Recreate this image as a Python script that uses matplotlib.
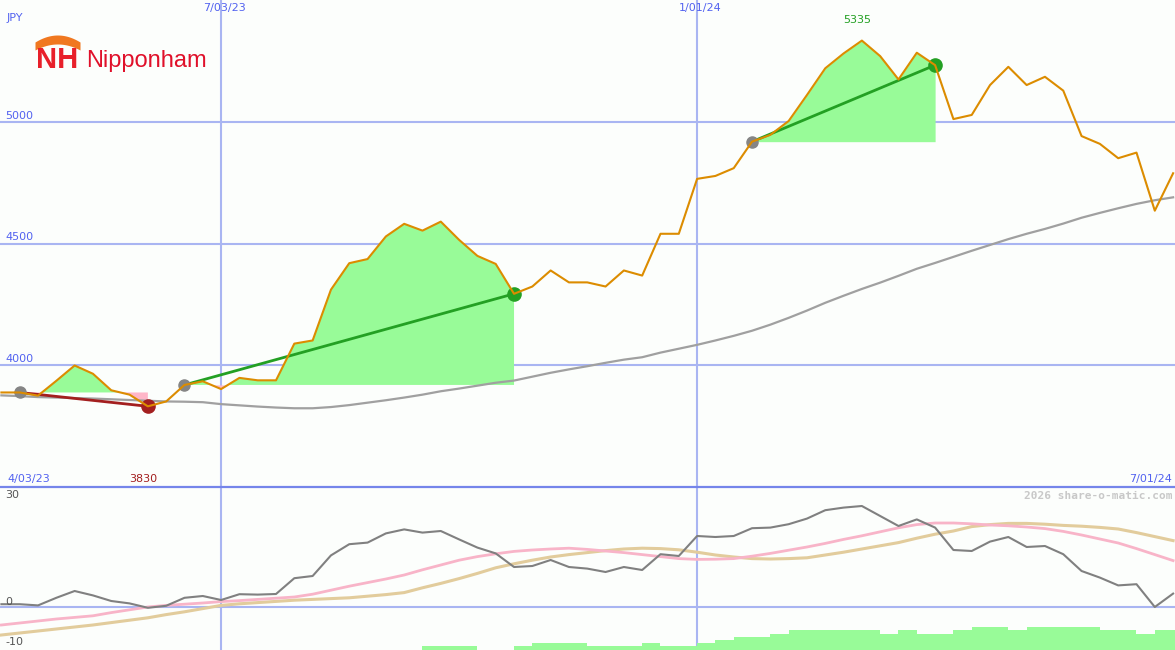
#!/usr/bin/env python3
import numpy as np
import matplotlib
matplotlib.use('Agg')
import matplotlib.pyplot as plt
from matplotlib.lines import Line2D

W, H = 1175, 650

# weekly closes (JPY), first point = week after 4/03/23
price = [3887, 3887, 3874, 3935, 3998, 3964, 3896, 3878, 3830, 3850,
         3918, 3933, 3901, 3947, 3937, 3937, 4088, 4101, 4310, 4419,
         4436, 4529, 4581, 4553, 4590, 4515, 4449, 4416, 4293, 4323,
         4389, 4340, 4340, 4323, 4389, 4368, 4540, 4540, 4766, 4778,
         4810, 4919, 4947, 5004, 5111, 5221, 5282, 5335, 5271, 5175,
         5285, 5234, 5012, 5029, 5152, 5227, 5152, 5186, 5129, 4942,
         4910, 4851, 4874, 4635, 4789]

moving_avg = [3875, 3872, 3868, 3866, 3864, 3862, 3859, 3856, 3853, 3850,
              3849, 3847, 3839, 3834, 3829, 3825, 3822, 3822, 3827, 3835,
              3845, 3855, 3866, 3878, 3892, 3903, 3915, 3927, 3936, 3952,
              3968, 3982, 3995, 4009, 4022, 4032, 4051, 4067, 4083, 4101,
              4120, 4141, 4166, 4194, 4224, 4256, 4285, 4313, 4339, 4367,
              4396, 4420, 4445, 4470, 4494, 4518, 4540, 4560, 4582, 4606,
              4626, 4645, 4663, 4678, 4690]

# lower panel indicators
osc = [0.7, 0.7, 0.4, 2.3, 4.0, 2.9, 1.5, 0.9, -0.2, 0.3,
       2.3, 2.75, 1.75, 3.2, 3.1, 3.25, 7.2, 7.75, 12.9, 15.7,
       16.1, 18.4, 19.4, 18.6, 19.0, 16.9, 14.85, 13.4, 10.0, 10.25,
       11.75, 10.0, 9.6, 8.75, 10.0, 9.25, 13.2, 12.75, 17.75, 17.5,
       17.75, 19.7, 19.85, 20.7, 22.1, 24.2, 24.85, 25.25, 22.75, 20.25,
       21.9, 19.85, 14.25, 14.0, 16.35, 17.5, 15.0, 15.25, 13.2, 9.0,
       7.35, 5.4, 5.7, 0.0, 3.35]

osc_pink = [-4.5, -4.0, -3.5, -3.0, -2.6, -2.2, -1.4, -0.7, 0.0, 0.4,
            0.7, 1.0, 1.35, 1.6, 1.9, 2.2, 2.5, 3.2, 4.2, 5.2,
            6.1, 7.0, 8.0, 9.3, 10.5, 11.7, 12.6, 13.3, 13.9, 14.25,
            14.5, 14.7, 14.4, 14.0, 13.6, 13.1, 12.6, 12.1, 11.9, 11.95,
            12.1, 12.7, 13.4, 14.2, 15.0, 15.9, 16.9, 17.8, 18.8, 19.8,
            20.6, 21.0, 21.0, 20.8, 20.5, 20.3, 20.0, 19.6, 18.9, 18.0,
            17.0, 16.0, 14.6, 13.1, 11.6]

osc_tan = [-7.0, -6.5, -6.0, -5.5, -5.0, -4.5, -3.9, -3.3, -2.7, -1.9,
           -1.2, -0.4, 0.4, 0.8, 1.1, 1.4, 1.7, 1.9, 2.1, 2.3,
           2.7, 3.1, 3.6, 4.8, 5.9, 7.1, 8.4, 9.8, 10.8, 11.7,
           12.5, 13.1, 13.6, 14.1, 14.5, 14.7, 14.6, 14.3, 13.7, 13.0,
           12.5, 12.1, 12.0, 12.1, 12.3, 13.0, 13.7, 14.5, 15.3, 16.1,
           17.2, 18.2, 19.0, 20.1, 20.6, 20.9, 20.9, 20.7, 20.4, 20.2,
           19.9, 19.5, 18.6, 17.6, 16.6]

nan = np.nan
bar_top = [nan] * 23 + [
    -9.7, -9.7, -9.7, nan, nan, -9.7, -9.1, -9.1, -9.1, -9.7,
    -9.7, -9.7, -9.1, -9.7, -9.7, -9.1, -8.3, -7.6, -7.6, -6.8,
    -5.8, -5.8, -5.8, -5.8, -5.8, -6.8, -5.8, -6.8, -6.8, -5.8,
    -5.0, -5.0, -5.8, -5.0, -5.0, -5.0, -5.0, -5.8, -5.8, -6.8,
    -5.8, -5.8]

# trend segments: start week, end week, colour of end marker/line
seg_start = [1, 10, 41]
seg_end = [8, 28, 51]
seg_color = ['#a31f1f', '#23a023', '#23a023']

month_ticks = [12, 38]
top_labels = ['7/03/23', '1/01/24']
price_grid = [4000, 4500, 5000]

BG = '#fcfefc'
GRID = '#a9b5f2'
BLUE_TXT = '#5262f0'
GREEN_FILL = '#98fb98'
PINK_FILL = '#ffb6c8'


def px(x, y):
    return x / W, 1 - y / H


def main():
    fig = plt.figure(figsize=(W / 100, H / 100), dpi=100, facecolor=BG)
    split = 163 / H
    ax = fig.add_axes([0, split, 1, 1 - split])
    ax2 = fig.add_axes([0, 0, 1, split])

    x = np.arange(len(price))
    p = np.array(price, float)
    dx = 18.308
    xlim = (-1.4 / dx, (W - 1.4) / dx)

    for a in (ax, ax2):
        a.set_facecolor(BG)
        a.set_xlim(*xlim)
        a.axis('off')
        for m in month_ticks:
            a.axvline(m, color=GRID, lw=1.5, zorder=1)

    ax.set_ylim(3498, 5502)
    for g in price_grid:
        ax.axhline(g, color=GRID, lw=1.5, zorder=1)

    # shaded areas from each segment start
    for s, e in zip(seg_start, seg_end):
        xs = x[s:e + 1]
        ys = p[s:e + 1]
        base = p[s]
        ax.fill_between(xs, ys, base, where=ys >= base, interpolate=True,
                        color=GREEN_FILL, lw=0, zorder=2)
        ax.fill_between(xs, ys, base, where=ys < base, interpolate=True,
                        color=PINK_FILL, lw=0, zorder=2)

    ax.plot(x, moving_avg, color='#a0a0a0', lw=1.6, zorder=3)

    for s, e, c in zip(seg_start, seg_end, seg_color):
        ax.plot([s, e], [p[s], p[e]], color=c, lw=2.0, zorder=4)
        ax.plot(s, p[s], 'o', ms=8, color='#858585', zorder=5)
        ax.plot(e, p[e], 'o', ms=9.5, color=c, zorder=5)

    ax.plot(x, p, color='#dc8c00', lw=1.5, zorder=6)

    # lower panel
    ax2.set_ylim(-10.75, 30)
    ax2.axhline(0, color=GRID, lw=1.5, zorder=1)
    bt = np.array(bar_top, float)
    ok = ~np.isnan(bt)
    ax2.bar(x[ok] + 0.5, bt[ok] + 10.75, bottom=-10.75, width=1.0,
            color=GREEN_FILL, lw=0, zorder=2)
    ax2.plot(x, osc_tan, color='#e2cc9c', lw=2.2, zorder=3)
    ax2.plot(x, osc_pink, color='#f8b4c8', lw=2.0, zorder=4)
    ax2.plot(x, osc, color='#808080', lw=1.5, zorder=5)

    fig.add_artist(Line2D([0, 1], [split, split], transform=fig.transFigure,
                          color='#7585ea', lw=1.6))

    fs = 8
    fam = 'DejaVu Sans'
    fig.text(*px(7, 18), 'JPY', color=BLUE_TXT, fontsize=fs, family=fam, va='center')
    for g in price_grid:
        yy = 122 + (5000 - g) * 243 / 1000
        fig.text(*px(5, yy - 6), str(g), color=BLUE_TXT, fontsize=fs, family=fam, va='center')
    for m, lab in zip(month_ticks, top_labels):
        fig.text(*px(1.4 + m * dx + 3, 8), lab, color=BLUE_TXT, fontsize=fs,
                 family=fam, ha='center', va='center')
    fig.text(*px(7, 479), '4/03/23', color=BLUE_TXT, fontsize=fs, family=fam, va='center')
    fig.text(*px(1172, 479), '7/01/24', color=BLUE_TXT, fontsize=fs, family=fam,
             ha='right', va='center')

    hi = int(np.argmax(p))
    lo = int(np.argmin(p))
    fig.text(*px(1.4 + hi * dx - 5, 20), f'{int(p[hi])}', color='#23a023', fontsize=fs,
             family=fam, ha='center', va='center')
    fig.text(*px(1.4 + lo * dx - 5, 479), f'{int(p[lo])}', color='#a31f1f', fontsize=fs,
             family=fam, ha='center', va='center')

    fig.text(*px(5, 495), '30', color='#555555', fontsize=fs, family=fam, va='center')
    fig.text(*px(5, 602), '0', color='#555555', fontsize=fs, family=fam, va='center')
    fig.text(*px(5, 642), '-10', color='#555555', fontsize=fs, family=fam, va='center')
    fig.text(*px(1172, 496), '2026 share-o-matic.com', color='#c8c8c8', fontsize=8,
             family='DejaVu Sans Mono', weight='bold', ha='right', va='center')

    # logo
    lax = fig.add_axes([35 / W, 1 - 72 / H, 45 / W, 40 / H])
    lax.set_xlim(0, 45)
    lax.set_ylim(0, 40)
    lax.axis('off')
    t = np.linspace(-1, 1, 60)
    lx = 22.5 + 22.5 * t
    lax.fill_between(lx, 28 - 6 * t ** 2, 37 - 7 * t ** 2, color='#f07820', lw=0)
    lax.text(22.5, 4, 'NH', color='#e8202a', fontsize=21, weight='bold',
             family='Liberation Sans', ha='center', va='baseline')
    fig.text(*px(86, 67), 'Nipponham', color='#e0102a', fontsize=17,
             family='Liberation Sans', va='baseline')

    fig.savefig('out.png', dpi=100, facecolor=BG)
    plt.close(fig)


if __name__ == '__main__':
    main()
